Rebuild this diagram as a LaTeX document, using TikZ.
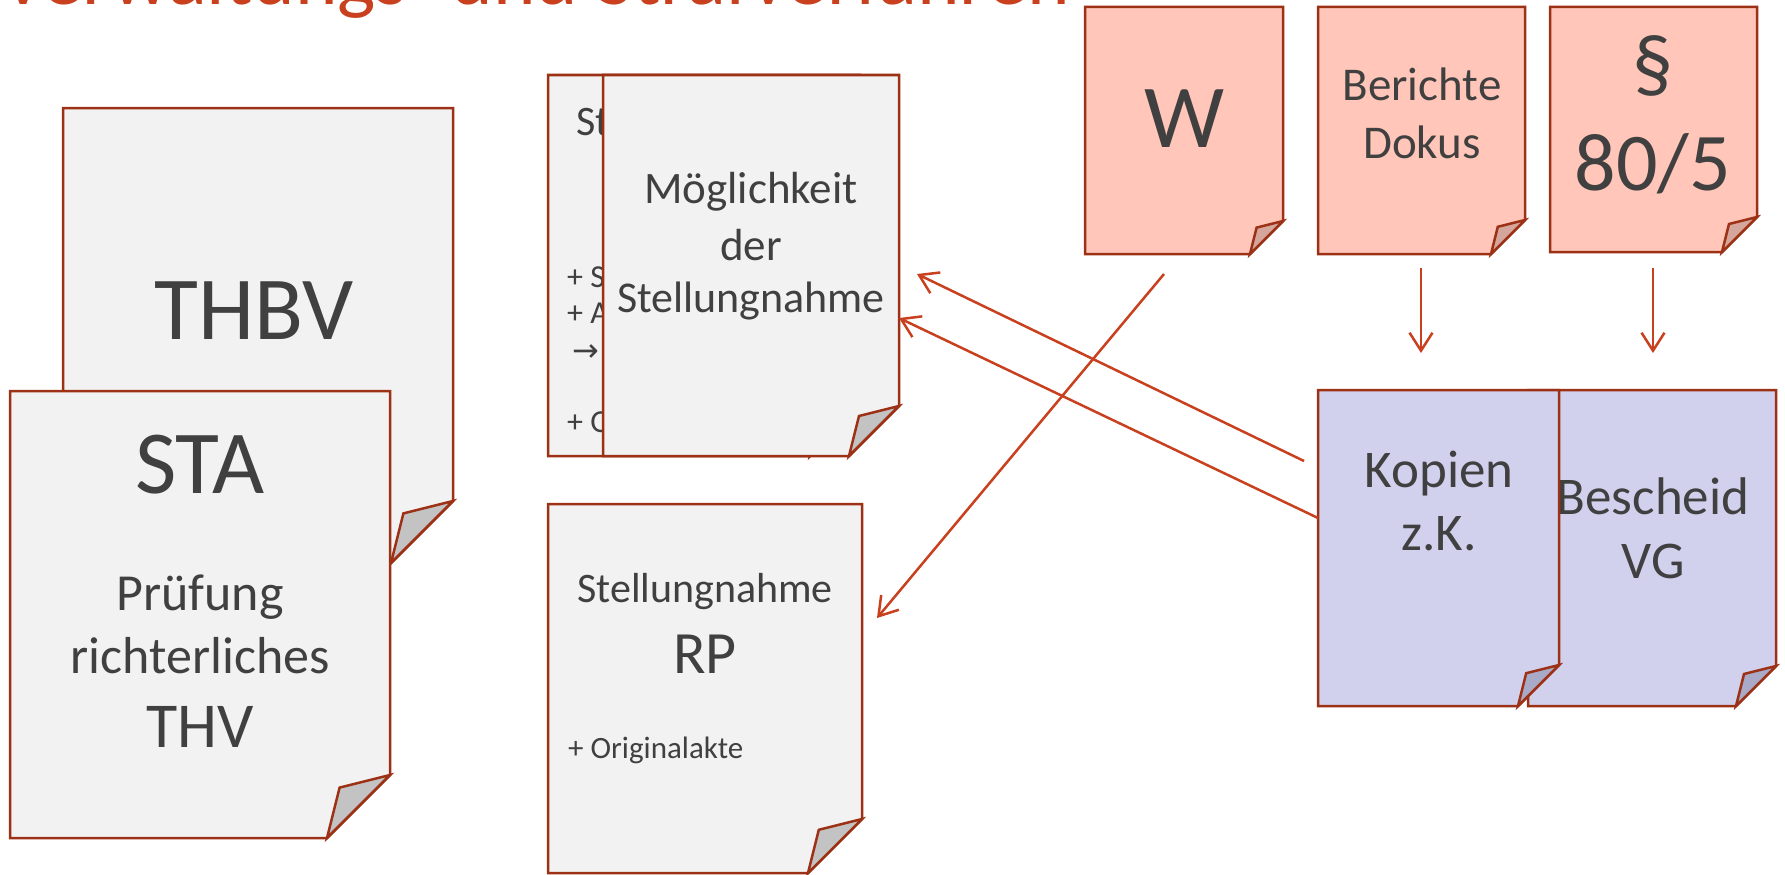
\documentclass[tikz,border=0pt]{standalone}
\usepackage{fontspec}
\setmainfont{Carlito}
\newfontfamily\symfont{DejaVu Sans}
\usetikzlibrary{arrows.meta}

\definecolor{titlered}{HTML}{C8401E}
\definecolor{arrowred}{HTML}{C8401E}
\definecolor{sheetedge}{HTML}{9C3116}
\definecolor{txtgray}{HTML}{404040}
\definecolor{pagegray}{HTML}{F2F2F2}
\definecolor{foldgray}{HTML}{C3C3C3}
\definecolor{pagerose}{HTML}{FFC6B9}
\definecolor{foldrose}{HTML}{D5A69B}
\definecolor{pagelilac}{HTML}{D1D1EE}
\definecolor{foldlilac}{HTML}{A9A9C8}

% sheet with folded corner: fill, fold fill, left, top, right, bottom, fold size
\newcommand{\sheet}[7]{%
  \draw[sheetline, fill=#1] (#3,#4) -- (#5,#4) -- ({#5},{#6-#7}) -- ({#5-#7},{#6}) -- (#3,#6) -- cycle;
  \draw[sheetline, fill=#2] ({#5},{#6-#7}) -- ({#5-0.8*#7},{#6-0.8*#7}) -- ({#5-#7},{#6}) -- cycle;}

\tikzset{
  sheetline/.style={draw=sheetedge, line width=2.5pt},
  lbl/.style={text=txtgray, inner sep=0pt, anchor=base, font=\fontsize{#1}{#1}\selectfont},
  flow/.style={draw=arrowred, line width=2.5pt, -{Straight Barb[length=18pt,width=23pt]}},
}

\begin{document}
\begin{tikzpicture}[x=1pt, y=-1pt]
			%%%%% START %%%%%
			\useasboundingbox (0,0) rectangle (1785,875);
			\clip (0,0) rectangle (1785,875);
			
			\node[text=titlered, inner sep=0pt, anchor=base west, font=\fontsize{81}{81}\selectfont] (title) at (0,5) {Verwaltungs- und Strafverfahren};
			
			% left pile
			\sheet{pagegray}{foldgray}{63}{108}{453}{563}{62}
			\node[lbl=90] (thbv) at (254,339) {THBV};
			\sheet{pagegray}{foldgray}{10}{391}{390}{838}{63}
			\node[lbl=90] (sta) at (200,493) {STA};
			\node[lbl=52] (pruef) at (200,610) {Prüfung};
			\node[lbl=52] (richt) at (200,673) {richterliches};
			\node[lbl=64] (thv) at (200,747) {THV};
			
			% middle
			\sheet{pagegray}{foldgray}{548}{75}{860}{456}{50}
			\node[lbl=42, anchor=base west] (stb) at (576,135) {St};
			\node[lbl=32, anchor=base west] (plusS) at (567,287) {+ S};
			\node[lbl=32, anchor=base west] (plusA) at (567,323) {+ A};
			\node[lbl=32, anchor=base west] (pfeil) at (572,361) {\symfont →};
			\node[lbl=32, anchor=base west] (plusO) at (567,432) {+ O};
			
			\sheet{pagegray}{foldgray}{603}{75}{899}{456}{50}
			\node[lbl=45] (moeg) at (751,203) {Möglichkeit};
			\node[lbl=45] (der) at (751,260) {der};
			\node[lbl=44] (stn) at (751,312) {Stellungnahme};
			
			\sheet{pagegray}{foldgray}{548}{504}{862}{873}{54}
			\node[lbl=42] (strp) at (705,602) {Stellungnahme};
			\node[lbl=60] (rp) at (705,673) {RP};
			\node[lbl=31, anchor=base west] (orig) at (568,758) {+ Originalakte};
			
			% top right
			\sheet{pagerose}{foldrose}{1085}{7}{1283}{254}{33}
			\node[lbl=90] (w) at (1185,147) {W};
			\sheet{pagerose}{foldrose}{1318}{7}{1525}{254}{34}
			\node[lbl=47] (ber) at (1422,100) {Berichte};
			\node[lbl=47] (dok) at (1422,158) {Dokus};
			\sheet{pagerose}{foldrose}{1550}{7}{1757}{252}{35}
			\node[lbl=82] (par) at (1653,92) {§};
			\node[lbl=82] (par805) at (1653,190) {80/5};
			
			% bottom right
			\sheet{pagelilac}{foldlilac}{1528}{390}{1776}{706}{40}
			\node[lbl=53] (besch) at (1653,514) {Bescheid};
			\node[lbl=53] (vg) at (1653,578) {VG};
			\sheet{pagelilac}{foldlilac}{1318}{390}{1559}{706}{41}
			\node[lbl=53] (kop) at (1439,487) {Kopien};
			\node[lbl=53] (zk) at (1439,550) {z.K.};
			
			% arrows
			\coordinate (kopA) at (1304,461);
			\coordinate (moegA) at (917,274);
			\coordinate (kopB) at (1318,518);
			\coordinate (moegB) at (899,318);
			\coordinate (wA) at (1164,274);
			\coordinate (rpA) at (877,618);
			\coordinate (berA) at (1421,268);
			\coordinate (berB) at (1421,353);
			\coordinate (parA) at (1653,268);
			\coordinate (parB) at (1653,353);
			
			\draw[flow] (kopA) -- (moegA);
			\draw[flow] (kopB) -- (moegB);
			\draw[flow] (wA) -- (rpA);
			\draw[flow] (berA) -- (berB);
			\draw[flow] (parA) -- (parB);
			
			%%%%% END %%%%%
\end{tikzpicture}
\end{document}
